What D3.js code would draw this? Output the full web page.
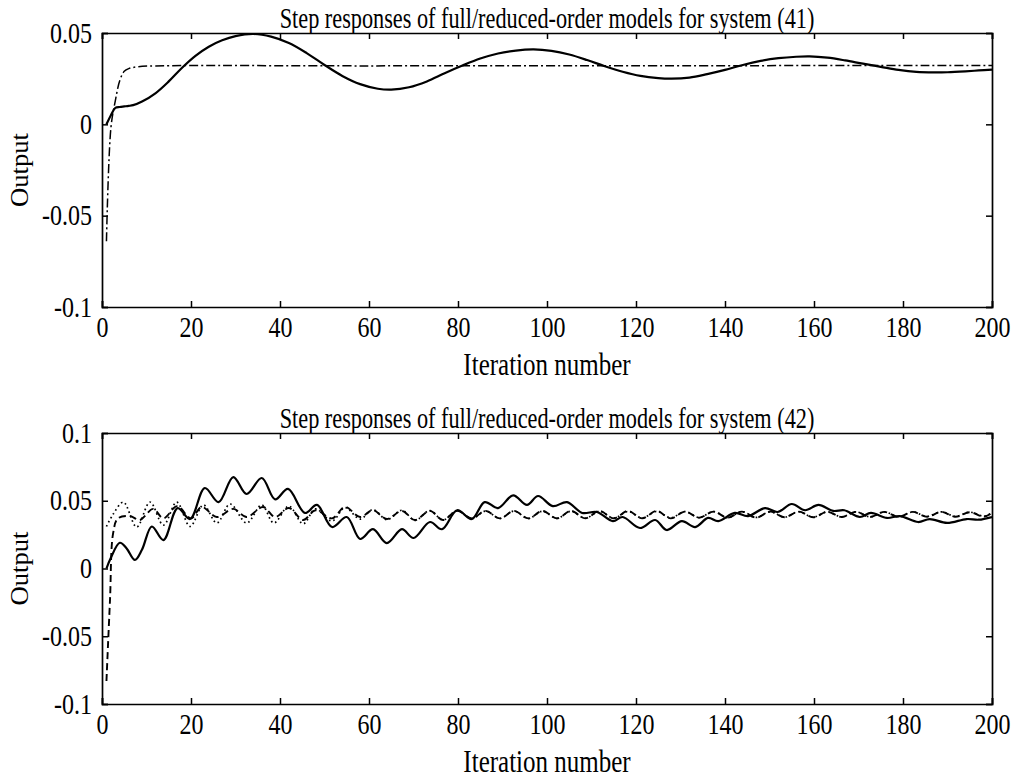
<!DOCTYPE html>
<html>
<head>
<meta charset="utf-8">
<script src="https://cdn.jsdelivr.net/npm/d3@7"></script>
<style>
  body { margin: 0; background: #fff; }
  svg { display: block; }
  text { font-family: "Liberation Serif", "Times New Roman", serif; fill: #000; }
</style>
</head>
<body>
<svg id="chart" width="1017" height="781"></svg>
<script>
// ---- data: [iteration, output] ----
const xTicks = [0, 20, 40, 60, 80, 100, 120, 140, 160, 180, 200]
const yTicksTop = [0.05, 0, -0.05, -0.1]
const yTicksBottom = [0.1, 0.05, 0, -0.05, -0.1]
const yTickLabels = { "0.1": "0.1", "0.05": "0.05", "0": "0", "-0.05": "-0.05", "-0.1": "-0.1" }

// system (41): full-order (solid), reduced-order (dash-dot)
const full41 = [
  [1, 0], [2, 0.005], [3, 0.009], [4, 0.0095], [5, 0.0098], [6, 0.0101], [7, 0.0105],
  [9, 0.0125], [12, 0.017], [15, 0.0235], [18, 0.031], [21, 0.0375], [24, 0.0425],
  [27, 0.046], [30, 0.0483], [34, 0.0495], [38, 0.048], [42, 0.0445], [46, 0.039],
  [50, 0.0325], [54, 0.0265], [58, 0.022], [62, 0.0195], [65, 0.019], [69, 0.0203],
  [73, 0.0235], [77, 0.028], [81, 0.0322], [85, 0.036], [89, 0.0388], [93, 0.0404],
  [97, 0.041], [101, 0.0402], [105, 0.0382], [109, 0.0352], [113, 0.0318], [117, 0.0288],
  [121, 0.0265], [125, 0.0253], [128, 0.025], [132, 0.0256], [136, 0.0275], [140, 0.0298],
  [144, 0.0325], [148, 0.0347], [152, 0.0362], [156, 0.037], [159, 0.0372], [163, 0.0365],
  [167, 0.035], [171, 0.0332], [175, 0.0315], [179, 0.0298], [183, 0.0287], [187, 0.0284],
  [190, 0.0285], [194, 0.029], [197, 0.0295], [200, 0.03]
]
const reduced41 = [
  [1, -0.064], [2, -0.002], [3, 0.013], [4, 0.024], [5, 0.029], [6, 0.0305],
  [8, 0.0315], [12, 0.032], [60, 0.032], [120, 0.0321], [200, 0.0322]
]

// system (42): full-order (solid), reduced-order A (dashed), reduced-order B (dotted)
const full42 = [
  [1, 0], [2, 0.008], [4, 0.019], [5.5, 0.015], [7.4, 0.0063], [9, 0.014], [11.2, 0.031],
  [13.8, 0.021], [17, 0.0446], [19.8, 0.0365], [23.1, 0.0594], [26.2, 0.049], [29.5, 0.0675],
  [32.5, 0.055], [35.9, 0.0668], [38.9, 0.051], [41.8, 0.0587], [45.6, 0.041], [48.3, 0.0469],
  [51.7, 0.0306], [55, 0.038], [58, 0.0218], [60.9, 0.029], [64, 0.0188], [67.4, 0.029],
  [70, 0.0225], [73.7, 0.0343], [76.4, 0.029], [79.8, 0.043], [83.1, 0.0365], [86, 0.049],
  [89, 0.0446], [92.4, 0.054], [95.5, 0.0469], [98, 0.0535], [101.3, 0.046], [104.5, 0.049],
  [107.9, 0.041], [111.2, 0.0417], [114.8, 0.035], [117, 0.038], [120.9, 0.0299],
  [124.3, 0.0358], [126.9, 0.0284], [130.3, 0.035], [133.3, 0.0306], [136.2, 0.0373],
  [138.5, 0.035], [142.2, 0.041], [145.2, 0.0387], [149, 0.0446], [151.8, 0.0417],
  [155, 0.0476], [158, 0.043], [161, 0.0469], [164.3, 0.0425], [166.8, 0.043], [170.3, 0.038],
  [172.8, 0.041], [176.4, 0.0373], [179.3, 0.0387], [183.4, 0.0343], [186, 0.0365],
  [189.9, 0.0336], [194.3, 0.0365], [197, 0.036], [200, 0.038]
]
const reducedA42 = [
  [1, -0.083], [1.8, -0.023], [2.5, 0.026], [3.6, 0.037], [6.3, 0.0387], [8.5, 0.0358],
  [11.5, 0.044], [13.8, 0.037], [16.9, 0.046], [20, 0.037], [22.4, 0.0454], [25.8, 0.038],
  [29.5, 0.044], [32.5, 0.038], [36.2, 0.0454], [38.9, 0.038], [42, 0.0446], [45.2, 0.0358],
  [48, 0.043], [51.7, 0.037], [54.6, 0.0454], [58, 0.038], [60.9, 0.043], [64, 0.0365],
  [67.4, 0.0425], [70.3, 0.0358], [73.7, 0.0425], [76.6, 0.0358], [79.8, 0.0425], [83.1, 0.037],
  [86.2, 0.0425], [89.4, 0.037], [92.6, 0.0425], [95.8, 0.037], [99, 0.0425], [102.2, 0.037],
  [105.4, 0.0425], [108.6, 0.037], [111.8, 0.0425], [115, 0.037], [118.2, 0.0425], [121.4, 0.037],
  [124.6, 0.0425], [127.8, 0.037], [131, 0.042], [134.2, 0.0375], [137.4, 0.042], [140.6, 0.0375],
  [143.8, 0.042], [147, 0.0375], [150.2, 0.042], [153.4, 0.0378], [156.6, 0.042], [159.8, 0.0378],
  [163, 0.0418], [166.2, 0.038], [169.4, 0.0418], [172.6, 0.038], [175.8, 0.0418], [179, 0.038],
  [182.2, 0.0418], [185.4, 0.0382], [188.6, 0.0418], [191.8, 0.0382], [195, 0.0415],
  [198.2, 0.0383], [200, 0.041]
]
const reducedB42 = [
  [1, 0.031], [2.5, 0.04], [4.8, 0.049], [7.8, 0.0306], [10.8, 0.049], [13.8, 0.032],
  [16.8, 0.049], [19.8, 0.031], [22.8, 0.0469], [25.8, 0.0336], [28.8, 0.0476], [32.5, 0.0336],
  [35.9, 0.0469], [38.6, 0.0336], [42, 0.046], [45.2, 0.033], [48, 0.044], [51.7, 0.035],
  [54.6, 0.045], [58, 0.0365], [60.9, 0.0435], [64, 0.036], [67.4, 0.043], [70.3, 0.0355],
  [73.7, 0.0428], [76.6, 0.0358], [79.8, 0.0426], [83.1, 0.0368], [86.2, 0.0424], [89.4, 0.0369],
  [92.6, 0.0424], [95.8, 0.0369], [99, 0.0423], [102.2, 0.037], [105.4, 0.0423], [108.6, 0.0371],
  [111.8, 0.0422], [115, 0.0372], [118.2, 0.0421], [121.4, 0.0373], [124.6, 0.0421],
  [127.8, 0.0374], [131, 0.042], [134.2, 0.0376], [137.4, 0.042], [140.6, 0.0376], [143.8, 0.0419],
  [147, 0.0377], [150.2, 0.0419], [153.4, 0.0379], [156.6, 0.0419], [159.8, 0.0379], [163, 0.0418],
  [166.2, 0.0381], [169.4, 0.0418], [172.6, 0.0381], [175.8, 0.0418], [179, 0.0382],
  [182.2, 0.0418], [185.4, 0.0384], [188.6, 0.0418], [191.8, 0.0384], [195, 0.0416],
  [198.2, 0.0386], [200, 0.0412]
]

const svg = d3.select('#chart')
svg.append('rect').attr('width', 1017).attr('height', 781).attr('fill', '#fff')

const fmtY = d => yTickLabels[String(+d.toFixed(2))]
// the scanned original is stretched vertically a bit, so text gets a y-scale
const stretch = 1.25

function panel(opts) {
  const { top, bottom, left, right, yDomain, yTicks, title, series, id } = opts
  const x = d3.scaleLinear().domain([0, 200]).range([left, right])
  const y = d3.scaleLinear().domain(yDomain).range([bottom, top])
  const cx = (left + right) / 2
  const g = svg.append('g')

  svg.append('clipPath').attr('id', id)
    .append('rect').attr('x', left).attr('y', top).attr('width', right - left).attr('height', bottom - top)

  const line = d3.line()
    .x(d => x(d[0]))
    .y(d => y(d[1]))
    .curve(d3.curveCatmullRom.alpha(0.5))

  series.forEach(s => {
    g.append('path')
      .datum(s.data)
      .attr('clip-path', 'url(#' + id + ')')
      .attr('fill', 'none')
      .attr('stroke', '#000')
      .attr('stroke-width', s.width)
      .attr('stroke-dasharray', s.dash)
      .attr('stroke-linejoin', 'round')
      .attr('d', line)
  })

  // box with inward ticks on all sides (matlab style)
  const tk = 6
  const xAxis = g.append('g').attr('transform', 'translate(0,' + bottom + ')')
    .call(d3.axisBottom(x).tickValues(xTicks).tickSize(-tk).tickFormat(d3.format('d')))
  g.append('g').attr('transform', 'translate(0,' + top + ')')
    .call(d3.axisTop(x).tickValues(xTicks).tickSize(-tk).tickFormat(''))
  const yAxis = g.append('g').attr('transform', 'translate(' + left + ',0)')
    .call(d3.axisLeft(y).tickValues(yTicks).tickSize(-tk).tickFormat(fmtY))
  g.append('g').attr('transform', 'translate(' + right + ',0)')
    .call(d3.axisRight(y).tickValues(yTicks).tickSize(-tk).tickFormat(''))

  g.selectAll('.domain').attr('stroke', '#000').attr('stroke-width', 1.7)
  g.selectAll('.tick line').attr('stroke', '#000').attr('stroke-width', 1.5)
  g.selectAll('.tick text').style('font-family', '"Liberation Serif", serif').style('font-size', '24px').attr('fill', '#000')

  xAxis.selectAll('.tick text')
    .attr('y', 0).attr('dy', null)
    .attr('transform', 'translate(0,30) scale(1,' + stretch + ')')
  yAxis.selectAll('.tick text')
    .attr('x', 0).attr('dy', null)
    .attr('transform', 'translate(-10,9) scale(1,' + stretch + ')')

  const t = g.append('text')
    .attr('text-anchor', 'middle')
    .style('font-size', '21px')
    .text(title)
  const natural = t.node().getComputedTextLength()
  t.style('font-size', (21 * 535 / natural).toFixed(2) + 'px')
    .attr('transform', 'translate(' + cx + ',' + (top - 5) + ') scale(1,1.35)')

  g.append('text')
    .attr('transform', 'translate(' + cx + ',' + (bottom + 68) + ') scale(1,1.3)')
    .attr('text-anchor', 'middle')
    .style('font-size', '25px')
    .text('Iteration number')

  g.append('text')
    .attr('transform', 'translate(28,' + ((top + bottom) / 2) + ') rotate(-90)')
    .attr('text-anchor', 'middle')
    .attr('textLength', 74).attr('lengthAdjust', 'spacingAndGlyphs')
    .style('font-size', '25px')
    .text('Output')
}

panel({
  id: 'clipTop', top: 33, bottom: 307, left: 102, right: 992,
  yDomain: [-0.1, 0.05], yTicks: yTicksTop,
  title: 'Step responses of full/reduced-order models for system (41)',
  series: [
    { data: reduced41, width: 1.5, dash: '9,3,2,3' },
    { data: full41, width: 2.2 }
  ]
})

panel({
  id: 'clipBottom', top: 433, bottom: 704, left: 102, right: 992,
  yDomain: [-0.1, 0.1], yTicks: yTicksBottom,
  title: 'Step responses of full/reduced-order models for system (42)',
  series: [
    { data: reducedB42, width: 1.7, dash: '1.6,3' },
    { data: reducedA42, width: 1.9, dash: '7,4' },
    { data: full42, width: 2.2 }
  ]
})
</script>
</body>
</html>
